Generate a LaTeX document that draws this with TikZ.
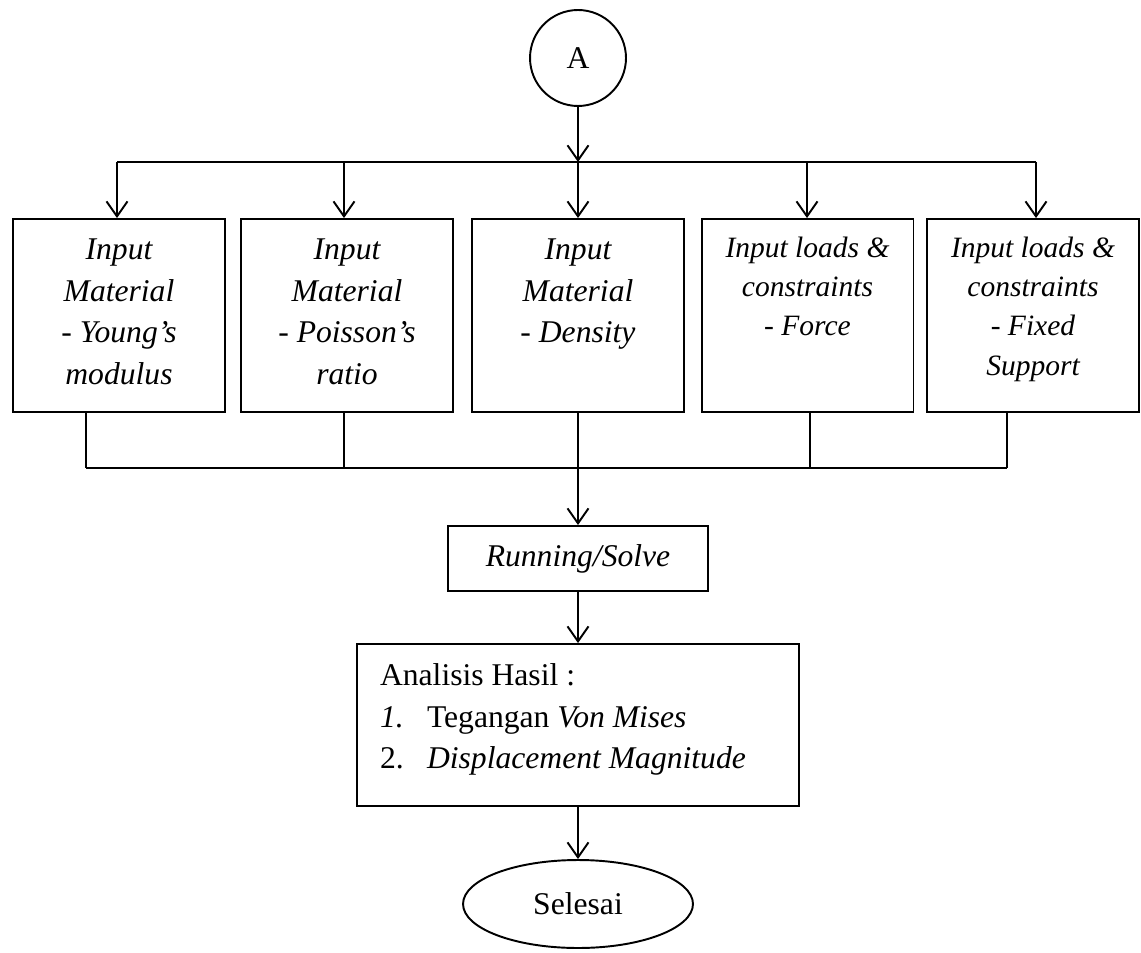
\documentclass[tikz,border=0pt]{standalone}
\usepackage{fontspec}
\setmainfont{Liberation Serif}
\usetikzlibrary{arrows.meta,shapes.geometric}

\tikzset{
  flowbox/.style={draw, line width=1.1pt, inner sep=0pt},
  flowline/.style={line width=1.1pt},
  thinline/.style={line width=0.6pt},
  flowarrow/.style={line width=1.1pt,
    -{Straight Barb[length=0.3cm, width=0.42cm, line width=1.1pt]}},
  bigfont/.style={font=\fontsize{18}{23.9}\selectfont},
  smallfont/.style={font=\fontsize{16.8}{22.4}\selectfont}
}

% text of one input box, top aligned
\newcommand{\inputtext}[2][0.8cm]{%
  \parbox[c][3.86cm][t]{4.24cm}{\centering\itshape\rule{0pt}{#1}#2}}

\begin{document}
\begin{tikzpicture}[x=0.02cm, y=-0.02cm, bigfont]
    \useasboundingbox (0,0) rectangle (1141,952);

    %----------------------------------------
    % START CONNECTOR
    %----------------------------------------
    \node[flowbox, circle, minimum size=1.92cm] (A) at (578,58) {A};

    %----------------------------------------
    % INPUT BOXES
    %----------------------------------------
    \node[flowbox] (b1) at (119,315.5) {\inputtext{Input\\Material\\- Young’s\\modulus}};
    \node[flowbox] (b2) at (347,315.5) {\inputtext{Input\\Material\\- Poisson’s\\ratio}};
    \node[flowbox] (b3) at (578,315.5) {\inputtext{Input\\Material\\- Density}};
    \node[flowbox, smallfont] (b4) at (807.5,315.5) {\inputtext[0.76cm]{Input loads \&\\constraints\\- Force}};
    \node[flowbox, smallfont] (b5) at (1033,315.5) {\inputtext[0.76cm]{Input loads \&\\constraints\\- Fixed\\Support}};

    % top bus (t) and bottom bus (m)
    \foreach \i/\x in {1/117, 2/344, 3/578, 4/807, 5/1036}{
       \coordinate (t\i) at (\x,162);
    }
    \foreach \i/\x in {1/86, 2/344, 3/578, 4/810, 5/1007}{
       \coordinate (m\i) at (\x,468);
    }

    \draw[flowarrow] (A) -- (t3);
    \draw[flowline] (t1) -- (t5);
    \foreach \i in {1,...,5}{
       \draw[flowarrow] (t\i) -- (t\i |- b\i.north);
       \draw[thinline] (m\i |- b\i.south) -- (m\i);
    }
    \draw[flowline] (m1) -- (m5);

    %----------------------------------------
    % SOLVE AND RESULTS
    %----------------------------------------
    \node[flowbox, minimum width=5.2cm, minimum height=1.3cm,
          font=\fontsize{18}{23.9}\selectfont\itshape] (run) at (578,558.5) {Running/Solve};

    \node[flowbox] (hasil) at (578,725) {\parbox[c][3.24cm][t]{8.84cm}{%
        \raggedright\leftskip=0.46cm\rule{0pt}{0.82cm}Analisis Hasil :\\
        \makebox[0.94cm][l]{\textit{1.}}Tegangan \textit{Von Mises}\\
        \makebox[0.94cm][l]{2.}\textit{Displacement Magnitude}}};

    \node[flowbox, ellipse, minimum width=4.6cm, minimum height=1.76cm] (end) at (578,904) {Selesai};

    \draw[flowarrow] (m3) -- (run);
    \draw[flowarrow] (run) -- (hasil);
    \draw[flowarrow] (hasil) -- (end);

\end{tikzpicture}
\end{document}
